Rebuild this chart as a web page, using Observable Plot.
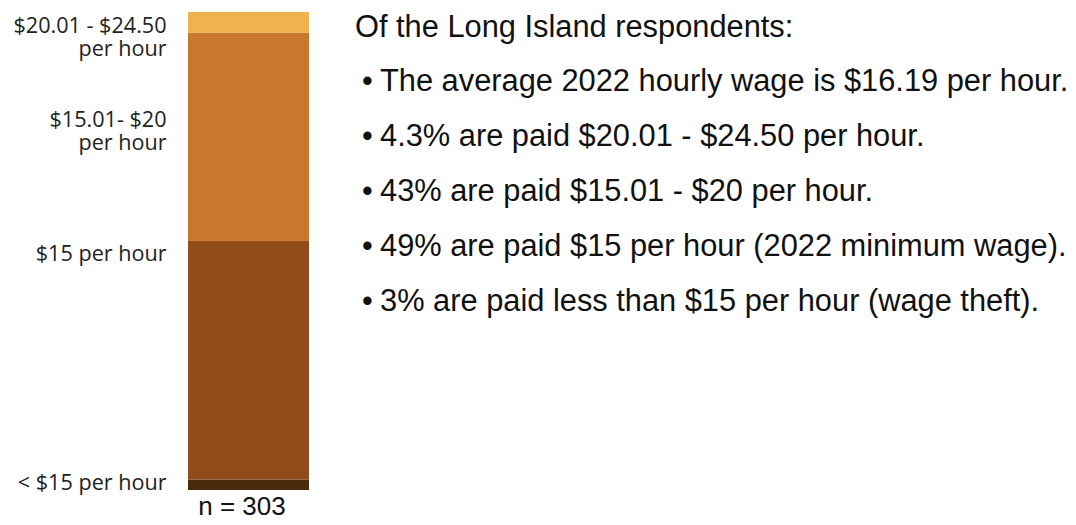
<!DOCTYPE html>
<html>
<head>
<meta charset="utf-8">
<script src="https://cdn.jsdelivr.net/npm/d3@7"></script>
<script src="https://cdn.jsdelivr.net/npm/@observablehq/plot@0.6"></script>
<style>
  html, body { margin: 0; padding: 0; background: #fff; }
  #wrap { position: relative; width: 1076px; height: 525px; overflow: hidden; }
  #chart { position: absolute; left: 0; top: 0; }
  .note { position: absolute; font-family: "Liberation Sans", Arial, sans-serif; font-size: 30.8px; color: #111; white-space: nowrap; line-height: 1; }
</style>
</head>
<body>
<div id="wrap"><div id="chart"></div></div>
<script>
// wage bands, bottom to top
const bands = ["< $15 per hour", "$15 per hour", "$15.01- $20 per hour", "$20.01 - $24.50 per hour"];
const shares = [2.2, 49.9, 43.6, 4.3];
const bandColors = ["#4b2a0d", "#924c1a", "#ca772e", "#efb24e"];
// side labels (tick labels) and the share value they sit at
const tickLabels = ["$20.01 - $24.50\nper hour", "$15.01- $20\nper hour", "$15 per hour", "< $15 per hour"];
const tickValues = [94.8, 75.1, 49.6, 1.7];
const sampleNote = "n = 303";
const heading = "Of the Long Island respondents:";
const bullets = [
  "The average 2022 hourly wage is $16.19 per hour.",
  "4.3% are paid $20.01 - $24.50 per hour.",
  "43% are paid $15.01 - $20 per hour.",
  "49% are paid $15 per hour (2022 minimum wage).",
  "3% are paid less than $15 per hour (wage theft)."
];

const rows = bands.map((b, i) => ({group: "LI", band: b, share: shares[i]}));
const total = d3.sum(shares);

const chart = Plot.plot({
  width: 330,
  height: 525,
  marginLeft: 188,
  marginRight: 21,
  marginTop: 12,
  marginBottom: 35,
  x: {domain: ["LI"], padding: 0, axis: null},
  y: {domain: [0, total], axis: null},
  color: {domain: bands, range: bandColors},
  marks: [
    Plot.barY(rows, {x: "group", y: "share", fill: "band", order: bands}),
    Plot.text(tickValues, {
      y: d => d,
      text: (d, i) => tickLabels[i],
      frameAnchor: "left",
      textAnchor: "end",
      dx: -22,
      lineHeight: 1.06,
      fontSize: 21.6,
      fontFamily: "'Open Sans', sans-serif",
      fill: "#222"
    }),
    Plot.text([sampleNote], {
      text: d => d,
      frameAnchor: "bottom",
      dy: 24,
      dx: -7,
      fontSize: 26,
      fontFamily: "'Liberation Sans', Arial, sans-serif",
      fill: "#111"
    })
  ]
});
document.getElementById("chart").appendChild(chart);

const wrap = document.getElementById("wrap");
const centers = [28, 82, 137, 192, 247, 302];
function addNote(text, left, cy) {
  const div = document.createElement("div");
  div.className = "note";
  div.textContent = text;
  div.style.top = (cy - 16) + "px";
  div.style.left = left + "px";
  wrap.appendChild(div);
}
addNote(heading, 355, centers[0]);
bullets.forEach((b, i) => {
  addNote("\u2022", 362, centers[i + 1]);
  addNote(b, 380, centers[i + 1]);
});
</script>
</body>
</html>
